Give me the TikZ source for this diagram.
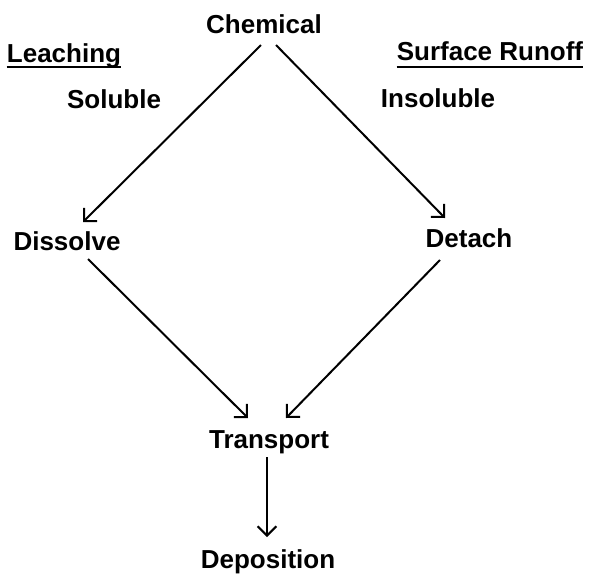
\documentclass[tikz,border=0pt]{standalone}
\usepackage{fontspec}
\setmainfont{Liberation Sans}
\usepackage{tikz}
\usetikzlibrary{arrows.meta, calc}

\begin{document}
\begin{tikzpicture}[x=0.75pt, y=-0.75pt,
  lbl/.style={anchor=base, inner sep=0pt, font=\fontsize{19.5}{23}\selectfont\bfseries},
  arr/.style={-{Straight Barb[length=7pt, width=14pt, line width=1.5pt]}, line width=1.5pt},
  uline/.style={line width=1.8pt}]
\useasboundingbox (0,0) rectangle (594,576);
% labels
\node[lbl] (chem)   at (264,33)  {Chemical};
\node[lbl] (leach)  at (64,62)   {Leaching};
\node[lbl] (runoff) at (490,60)  {Surface Runoff};
\node[lbl] (sol)    at (114,108) {Soluble};
\node[lbl] (insol)  at (438,107) {Insoluble};
\node[lbl] (diss)   at (67,250)  {Dissolve};
\node[lbl] (det)    at (469,247) {Detach};
\node[lbl] (trans)  at (269,448) {Transport};
\node[lbl] (depo)   at (268,568) {Deposition};
% underlines
\draw[uline] ($(leach.base west)+(0,5)$) -- ($(leach.base east)+(0,5)$);
\draw[uline] ($(runoff.base west)+(0,7)$) -- ($(runoff.base east)+(0,7)$);
% arrows
\draw[arr] ($(chem.base)+(-3,12)$) -- ($(diss.base)+(16,-28)$);
\draw[arr] ($(chem.base)+(12,12)$) -- ($(det.base)+(-24,-29)$);
\draw[arr] ($(diss.base)+(21,9)$) -- ($(trans.base)+(-21,-30)$);
\draw[arr] ($(det.base)+(-29,13)$) -- ($(trans.base)+(17,-30)$);
\draw[arr] ($(trans.base)+(-2,9)$) -- ($(depo.base)+(-1,-31)$);
\end{tikzpicture}
\end{document}
